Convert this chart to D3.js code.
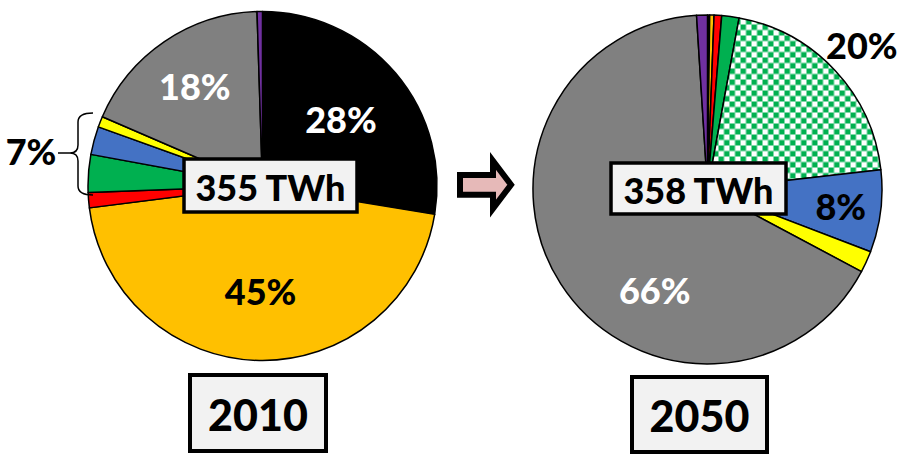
<!DOCTYPE html>
<html>
<head>
<meta charset="utf-8">
<script src="https://cdn.jsdelivr.net/npm/d3@7/dist/d3.min.js"></script>
<style>
  html, body { margin: 0; padding: 0; background: #fff; }
  svg { display: block; }
  text { font-family: Lato, "Open Sans", sans-serif; font-weight: 900; }
</style>
</head>
<body>
<svg id="chart" width="904" height="455"></svg>
<script>
// ---- data ----
const categories = ["Black", "Gold", "Red", "Green", "Green (checkered)", "Blue", "Yellow", "Gray", "Purple"];
const values2010 = [27.6, 45.4, 1.4, 3.5, 0, 2.6, 1.0, 18.0, 0.5];
const values2050 = [0.2, 0.4, 0.7, 1.6, 20.3, 7.6, 2.0, 66.2, 1.0];
const years = ["2010", "2050"];
const totals = ["355 TWh", "358 TWh"];
const labels2010 = [
  { cat: "Black", text: "28%" },
  { cat: "Gold", text: "45%" },
  { cat: "Gray", text: "18%" }
];
const labels2050 = [
  { cat: "Green (checkered)", text: "20%" },
  { cat: "Blue", text: "8%" },
  { cat: "Gray", text: "66%" }
];
const groupLabel2010 = "7%";

// ---- styles ----
const fills = {
  "Black": "#000000", "Gold": "#ffc000", "Red": "#ff0000", "Green": "#00b050",
  "Green (checkered)": "url(#checker)", "Blue": "#4472c4", "Yellow": "#ffff00",
  "Gray": "#808080", "Purple": "#7030a0"
};
const labelStyle = {
  "2010": { "Black": { r: 0.59, color: "#fff" }, "Gold": { r: 0.60, color: "#000" }, "Gray": { r: 0.69, color: "#fff" } },
  "2050": { "Green (checkered)": { r: 1.21, color: "#000" }, "Blue": { r: 0.77, color: "#000" }, "Gray": { r: 0.65, color: "#fff", a: -29.5 } }
};

const svg = d3.select("#chart");
const defs = svg.append("defs");
const pat = defs.append("pattern").attr("id", "checker").attr("patternUnits", "userSpaceOnUse")
  .attr("width", 11).attr("height", 11);
pat.append("rect").attr("width", 11).attr("height", 11).attr("fill", "#fff");
pat.append("rect").attr("x", 0).attr("y", 0).attr("width", 5.5).attr("height", 5.5).attr("fill", "#00b050");
pat.append("rect").attr("x", 5.5).attr("y", 5.5).attr("width", 5.5).attr("height", 5.5).attr("fill", "#00b050");

const R = 174.5;
const pies = [
  { year: years[0], values: values2010, cx: 262.5, cy: 186, labels: labels2010, total: totals[0],
    box: { x: 184, y: 159, w: 173, h: 53 }, ybox: { x: 190, y: 375, w: 136, h: 76 } },
  { year: years[1], values: values2050, cx: 707.5, cy: 189.5, labels: labels2050, total: totals[1],
    box: { x: 611, y: 163, w: 175, h: 51 }, ybox: { x: 632, y: 377, w: 135, h: 75 } }
];

const pieGen = d3.pie().sort(null).value(d => d.v).startAngle(0).endAngle(2 * Math.PI);
const arc = d3.arc().innerRadius(0).outerRadius(R);

pies.forEach(p => {
  const rows = categories.map((c, i) => ({ cat: c, v: p.values[i] }));
  const arcs = pieGen(rows).filter(a => a.data.v > 0);
  const g = svg.append("g").attr("transform", `translate(${p.cx},${p.cy})`);
  g.selectAll("path.slice").data(arcs).join("path")
    .attr("class", "slice")
    .attr("d", arc)
    .attr("fill", d => fills[d.data.cat])
    .attr("stroke", "#000").attr("stroke-width", 1.5).attr("stroke-linejoin", "round");

  // percentage labels
  p.labels.forEach(l => {
    const a = arcs.find(x => x.data.cat === l.cat);
    const st = labelStyle[p.year][l.cat];
    const mid = (a.startAngle + a.endAngle) / 2 + (st.a || 0) * Math.PI / 180;
    const rr = R * st.r;
    g.append("text")
      .attr("x", rr * Math.sin(mid)).attr("y", -rr * Math.cos(mid))
      .attr("text-anchor", "middle").attr("dominant-baseline", "central")
      .attr("font-size", 36).attr("fill", st.color)
      .text(l.text);
  });

  // total box
  svg.append("rect").attr("x", p.box.x).attr("y", p.box.y).attr("width", p.box.w).attr("height", p.box.h)
    .attr("fill", "#f2f2f2").attr("stroke", "#000").attr("stroke-width", 3.5);
  svg.append("text").attr("x", p.box.x + p.box.w / 2).attr("y", p.box.y + p.box.h / 2 + 1)
    .attr("text-anchor", "middle").attr("dominant-baseline", "central")
    .attr("font-size", 36).attr("fill", "#000").text(p.total);

  // year box
  svg.append("rect").attr("x", p.ybox.x).attr("y", p.ybox.y).attr("width", p.ybox.w).attr("height", p.ybox.h)
    .attr("fill", "#f2f2f2").attr("stroke", "#000").attr("stroke-width", 4);
  svg.append("text").attr("x", p.ybox.x + p.ybox.w / 2).attr("y", p.ybox.y + p.ybox.h / 2 + 1)
    .attr("text-anchor", "middle").attr("dominant-baseline", "central")
    .attr("font-size", 43).attr("fill", "#000").text(p.year);
});

// brace + 7% label
svg.append("path")
  .attr("d", "M93,113 Q78,113 78,122 L78,145 Q78,153 70,153 L58,153 M70,153 Q78,153 78,161 L78,186 Q78,195 93,195")
  .attr("fill", "none").attr("stroke", "#000").attr("stroke-width", 1.5);
svg.append("text").attr("x", 31).attr("y", 151).attr("text-anchor", "middle").attr("dominant-baseline", "central")
  .attr("font-size", 36).attr("fill", "#000").text(groupLabel2010);

// arrow
svg.append("path")
  .attr("d", "M460,175 L493,175 L493,161 L511,184.8 L493,208.5 L493,194.7 L460,194.7 Z")
  .attr("fill", "#e6b9b8").attr("stroke", "#000").attr("stroke-width", 6).attr("stroke-linejoin", "miter");
</script>
</body>
</html>
